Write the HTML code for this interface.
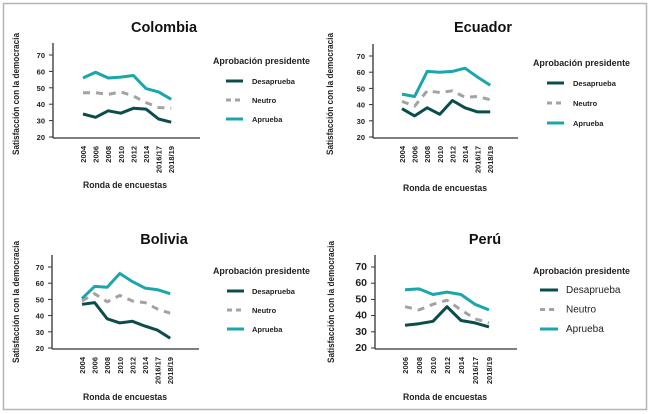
<!DOCTYPE html>
<html><head><meta charset="utf-8">
<style>
html,body{margin:0;padding:0;background:#fff;}
svg{display:block;font-family:"Liberation Sans",sans-serif;}
</style></head>
<body>
<svg id="chart" width="650" height="414" viewBox="0 0 650 414" xmlns="http://www.w3.org/2000/svg">
<rect x="3.5" y="3.5" width="643" height="406" fill="#fff" stroke="#b5b5b5" stroke-width="1.5"/>
</svg>
<script>
const roundsFull = ["2004","2006","2008","2010","2012","2014","2016/17","2018/19"];
const roundsPeru = ["2006","2008","2010","2012","2014","2016/17","2018/19"];
const yTicks = [20,30,40,50,60,70];
const seriesNames = ["Desaprueba","Neutro","Aprueba"];

const colDes = [34,32,36,34.5,37.5,37,31,29];
const colNeu = [47,47,46,47.5,45,41,38,37.5];
const colApr = [56,59.5,56,56.5,57.5,49.5,47.5,43];

const ecuDes = [37.5,33,38,34,42.5,38,35.5,35.5];
const ecuNeu = [42,39,48.5,47.5,48.5,44.5,45,43];
const ecuApr = [46.5,45,60.5,60,60.5,62.5,57,52];

const bolDes = [47,48,38,35.5,36.5,33.5,31,26];
const bolNeu = [49,53.5,48.5,52.5,49,48,44,41.5];
const bolApr = [50.5,58,57.5,66,61,57,56,53.5];

const perDes = [34,35,36.5,45.5,37,35.5,33];
const perNeu = [45.5,43.5,47,49.5,43.5,38,35.5];
const perApr = [56,56.5,53,54.5,53,47,43.5];

const NS = "http://www.w3.org/2000/svg";
const svg = document.getElementById("chart");
const COLORS = ["#0b4d4c","#a3a3a3","#1ba5ad"];

function mk(tag, attrs, parent){
  const e = document.createElementNS(NS, tag);
  for (const k in attrs) e.setAttribute(k, attrs[k]);
  (parent||svg).appendChild(e);
  return e;
}

function panel(p){
  const g = mk("g", {});
  
  
  const y = v => p.y20 - (v - 20) * (p.y20 - p.y70) / 50;
  const x = i => p.x0 + i * p.step;

  const t = mk("text", {x:p.titleX, y:p.titleY, "text-anchor":"middle", "font-size":14.5, "font-weight":"bold", fill:"#111"}, g);
  t.textContent = p.title;
  
  

  const ya = mk("line", {x1:p.ax, y1:p.y70-12, x2:p.ax, y2:p.y20+1, stroke:"#333", "stroke-width":1.3}, g);
  
  
  const xa = mk("line", {x1:p.ax, y1:p.y20+1, x2:p.axEnd, y2:p.y20+1, stroke:"#333", "stroke-width":1.3}, g);
  
  

  yTicks.forEach(v => {
    mk("line", {x1:p.ax-4, y1:y(v), x2:p.ax, y2:y(v), stroke:"#333", "stroke-width":1}, g);
    const tl = mk("text", {x:p.ax-8, y:y(v)+3, "text-anchor":"end", "font-size":p.tickFs, "font-weight":"bold", fill:"#222"}, g);
    tl.textContent = v;
    
    
  });

  p.cats.forEach((c, i) => {
    const tl = mk("text", {x:0, y:0, "text-anchor":"end", "font-size":7.5, "font-weight":"bold", fill:"#222",
      transform:"translate(" + (x(i)+3) + "," + (p.y20+9) + ") rotate(-90)"}, g);
    tl.textContent = c;
    
    
  });

  const yt = mk("text", {x:0, y:0, "text-anchor":"middle", "font-size":9, "font-weight":"bold", fill:"#222",
    textLength:122, lengthAdjust:"spacingAndGlyphs",
    transform:"translate(" + p.ytX + "," + p.ytY + ") rotate(-90)"}, g);
  yt.textContent = "Satisfacción con la democracia";
  
  

  const xt = mk("text", {x:p.xtX, y:p.xtY, "text-anchor":"middle", "font-size":9.5, "font-weight":"bold", fill:"#222",
    textLength:84, lengthAdjust:"spacingAndGlyphs"}, g);
  xt.textContent = "Ronda de encuestas";
  
  

  p.series.forEach((s, si) => {
    const pts = s.map((v, i) => x(i).toFixed(1) + "," + y(v).toFixed(1)).join(" ");
    const attrs = {points:pts, fill:"none", stroke:COLORS[si], "stroke-width":3, "stroke-linejoin":"round"};
    if (si === 1) attrs["stroke-dasharray"] = "7,6";
    const pl = mk("polyline", attrs, g);
    
    
  });

  const lt = mk("text", {x:p.legX, y:p.legY, "font-size":9, "font-weight":"bold", fill:"#222",
    textLength:97, lengthAdjust:"spacingAndGlyphs"}, g);
  lt.textContent = "Aprobación presidente";
  
  
  seriesNames.forEach((n, si) => {
    const ly = p.legY + p.legOff + si * p.legGap;
    const la = {x1:p.legLX, y1:ly, x2:p.legLX + p.legLW, y2:ly, stroke:COLORS[si], "stroke-width":3};
    if (si === 1) la["stroke-dasharray"] = "5,4";
    const ll = mk("line", la, g);
    
    
    const lx = mk("text", {x:p.legTX, y:ly+3, "font-size":p.legFs, "font-weight":p.legFs>9?"normal":"bold", fill:"#222"}, g);
    lx.textContent = n;
    
    
  });
}

panel({id:"colombia", title:"Colombia", cats:roundsFull, series:[colDes,colNeu,colApr],
  ax:53, axEnd:200, y70:55, y20:137, x0:83, step:12.6, tickFs:7.5,
  titleX:164, titleY:32, ytX:19, ytY:94, xtX:125, xtY:188,
  legX:213, legY:64, legOff:17, legGap:19, legLX:226, legLW:17, legTX:252, legFs:7.5});

panel({id:"ecuador", title:"Ecuador", cats:roundsFull, series:[ecuDes,ecuNeu,ecuApr],
  ax:373, axEnd:518, y70:56, y20:137, x0:402, step:12.6, tickFs:7.5,
  titleX:483, titleY:32, ytX:333, ytY:94, xtX:445, xtY:191,
  legX:533, legY:66, legOff:17, legGap:20, legLX:547, legLW:17, legTX:573, legFs:7.5});

panel({id:"bolivia", title:"Bolivia", cats:roundsFull, series:[bolDes,bolNeu,bolApr],
  ax:52, axEnd:199, y70:267, y20:348, x0:82, step:12.6, tickFs:7.5,
  titleX:164, titleY:244, ytX:19, ytY:302, xtX:125, xtY:400,
  legX:213, legY:274, legOff:17, legGap:19, legLX:227, legLW:17, legTX:252, legFs:7.5});

panel({id:"peru", title:"Perú", cats:roundsPeru, series:[perDes,perNeu,perApr],
  ax:375, axEnd:517, y70:267, y20:348, x0:405, step:14, tickFs:10.5,
  titleX:485, titleY:244, ytX:334, ytY:302, xtX:445, xtY:400,
  legX:533, legY:274, legOff:16, legGap:19.5, legLX:540, legLW:18, legTX:566, legFs:10});
</script>
</body></html>
